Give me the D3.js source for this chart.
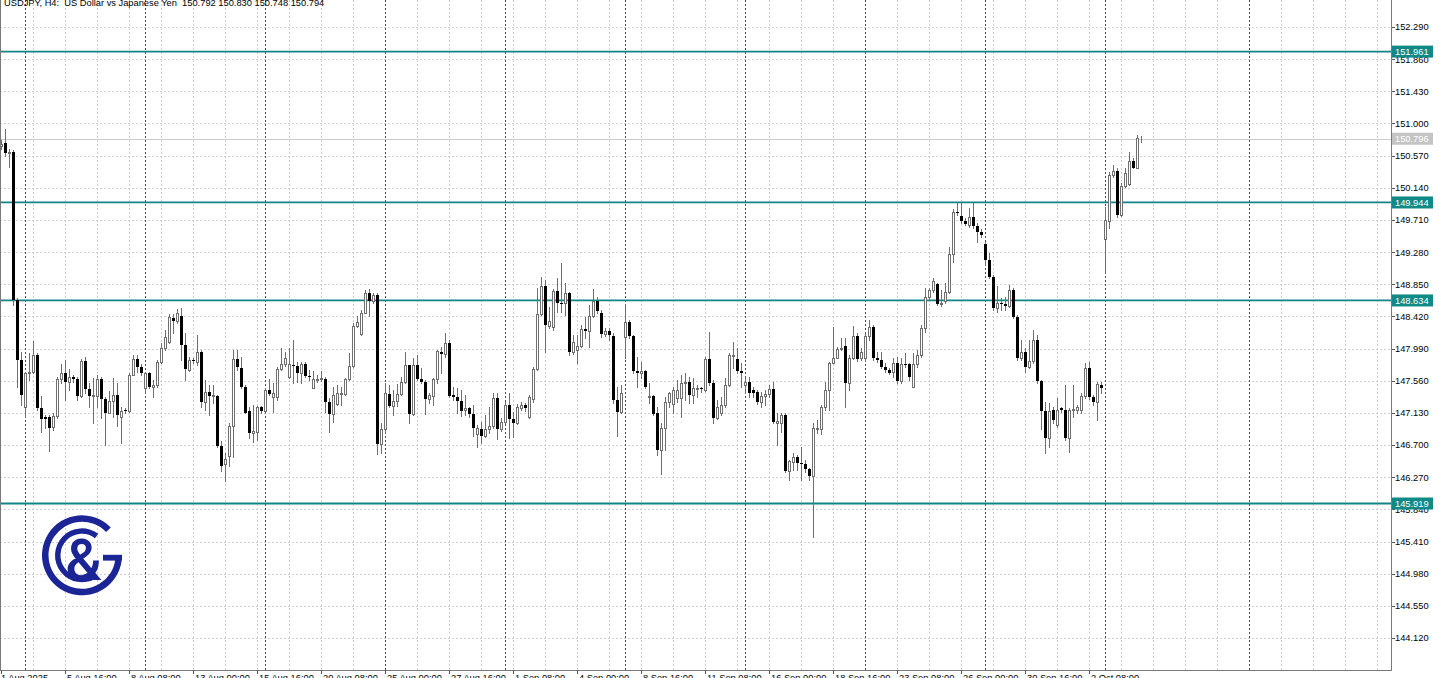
<!DOCTYPE html>
<html><head><meta charset="utf-8">
<script src="https://cdnjs.cloudflare.com/ajax/libs/d3/7.8.5/d3.min.js"></script>
<style>html,body{margin:0;padding:0;background:#fff;overflow:hidden} text{white-space:pre}</style>
</head><body>
<svg id="chart" width="1439" height="678"></svg>
<script>
// ---------- DATA (USDJPY H4, 1 Aug 2025 00:00 onwards, one entry per bar) ----------
const openP = [
150.70,150.74,150.60,150.615,148.64,147.84,147.21,147.66,147.68,147.90,
147.19,147.07,147.08,146.94,147.09,147.58,147.67,147.55,147.61,147.59,
147.35,147.82,147.45,147.35,147.36,147.58,147.31,147.13,147.29,147.37,
147.07,147.17,147.16,147.64,147.85,147.74,147.47,147.66,147.48,147.51,
147.81,148.00,148.08,148.40,148.36,148.43,148.04,147.71,147.84,147.81,
147.94,147.27,147.41,147.35,147.35,146.69,146.45,146.55,146.96,147.85,
147.73,147.48,147.15,146.86,146.88,147.21,147.15,147.43,147.34,147.34,
147.72,147.79,147.61,147.77,147.76,147.66,147.79,147.63,147.47,147.57,
147.58,147.59,147.28,147.12,147.25,147.38,147.38,147.59,147.76,148.29,
148.18,148.47,148.74,148.63,148.71,146.71,146.91,147.38,147.22,147.29,
147.38,147.55,147.77,147.12,147.77,147.58,147.55,147.31,147.35,147.58,
147.95,147.92,148.07,147.37,147.34,147.29,147.17,147.19,147.11,146.85,
146.92,146.82,146.91,146.95,147.33,146.91,147.01,147.24,147.05,147.00,
147.19,147.24,147.08,147.31,147.72,148.45,148.83,148.29,148.28,148.76,
148.60,148.60,148.73,147.94,147.97,148.02,148.25,148.22,148.43,148.63,
148.46,148.18,148.22,148.16,147.30,147.14,148.14,148.34,148.16,147.69,
147.67,147.69,147.34,147.35,147.13,146.63,146.93,147.27,147.25,147.33,
147.33,147.53,147.54,147.37,147.45,147.47,147.44,147.85,147.53,147.06,
147.13,147.23,147.50,147.89,147.85,147.69,147.50,147.55,147.43,147.41,
147.27,147.35,147.38,147.45,147.00,146.99,147.10,146.36,146.47,146.54,
146.46,146.45,146.38,146.29,146.91,146.91,147.21,147.44,147.80,147.87,
147.98,148.02,147.53,147.86,148.16,147.86,147.86,148.16,148.28,147.86,
147.84,147.75,147.70,147.68,147.80,147.56,147.79,147.78,147.48,147.78,
147.90,148.27,148.68,148.77,148.85,148.58,148.62,148.75,149.25,149.82,
149.76,149.69,149.64,149.75,149.63,149.55,149.39,149.18,148.95,148.53,
148.60,148.58,148.56,148.78,148.41,147.86,147.95,147.75,147.82,148.10,
147.56,147.16,146.80,147.17,146.97,147.19,147.17,146.80,147.17,147.17,
147.17,147.36,147.73,147.34,147.27,147.50,149.45,149.70,150.31,150.37,
149.78,150.17,150.19,150.50,150.41,150.792];
const highP = [
150.78,150.92,150.654,150.645,148.662,147.949,147.682,147.927,148.096,147.927,
147.356,147.10,147.10,147.133,147.615,147.78,147.838,147.713,147.637,147.615,
147.851,147.882,147.526,147.592,147.637,147.615,147.347,147.427,147.592,147.526,
147.213,147.19,147.659,147.904,147.904,147.784,147.682,147.682,147.57,147.838,
148.06,148.239,148.448,148.448,148.52,148.528,148.194,147.873,147.86,148.172,
147.971,147.57,147.503,147.503,147.369,146.75,146.60,147.00,147.971,147.971,
147.873,147.503,147.213,147.236,147.222,147.222,147.459,147.579,147.525,147.748,
147.994,147.947,147.994,148.105,147.815,147.815,147.815,147.704,147.695,147.637,
147.695,147.606,147.325,147.481,147.503,147.481,147.60,147.936,148.328,148.426,
148.506,148.773,148.782,148.738,148.729,146.99,147.525,147.503,147.436,147.517,
147.615,147.949,147.771,147.86,147.904,147.726,147.57,147.392,147.592,147.971,
148.016,148.194,148.105,147.481,147.459,147.436,147.37,147.213,147.236,146.968,
147.013,147.102,147.213,147.401,147.401,147.058,147.281,147.392,147.147,147.25,
147.281,147.267,147.37,147.748,148.796,148.952,148.907,148.542,148.782,148.929,
149.139,148.863,148.751,148.172,148.172,148.306,148.417,148.573,148.782,148.675,
148.506,148.261,148.261,148.194,147.481,147.503,148.582,148.372,148.172,147.882,
147.815,147.704,147.525,147.37,147.214,146.991,147.347,147.414,147.481,147.57,
147.637,147.659,147.615,147.592,147.503,147.481,147.873,148.216,147.57,147.303,
147.347,147.592,147.927,148.083,147.994,147.793,147.615,147.615,147.481,147.436,
147.414,147.436,147.503,147.548,147.124,147.124,147.124,146.50,146.59,146.567,
146.679,146.50,146.389,146.99,147.035,147.236,147.548,147.815,148.28,148.016,
148.127,148.127,147.905,148.292,148.194,148.00,148.194,148.372,148.305,147.949,
147.949,147.793,147.726,147.86,147.882,147.86,147.927,147.793,147.927,147.971,
148.305,148.796,148.796,148.929,148.863,148.773,148.863,149.353,149.852,149.941,
149.941,149.732,149.865,149.941,149.665,149.585,149.42,149.264,148.974,148.827,
148.662,148.684,148.84,148.796,148.439,148.105,147.994,148.105,148.239,148.172,
147.57,147.28,147.258,147.214,147.325,147.214,147.503,147.191,147.503,147.236,
147.392,147.793,147.815,147.37,147.548,147.548,149.888,150.356,150.445,150.40,
150.20,150.409,150.623,150.534,150.846,150.830];
const lowP = [
150.66,150.565,150.423,148.573,147.48,147.236,147.08,147.57,147.659,147.169,
146.879,146.93,146.625,146.901,147.057,147.526,147.303,147.436,147.548,147.303,
147.347,147.40,147.213,146.991,147.213,147.057,146.701,147.124,147.08,146.955,
146.723,147.124,147.147,147.637,147.682,147.637,147.414,147.459,147.347,147.481,
147.793,147.971,148.06,148.194,148.328,147.838,147.57,147.695,147.793,147.771,
147.213,147.169,147.102,147.258,146.679,146.35,146.22,146.42,146.545,147.704,
147.459,147.124,146.80,146.745,146.768,147.133,147.124,147.37,147.147,147.303,
147.704,147.757,147.592,147.525,147.548,147.534,147.615,147.57,147.459,147.548,
147.56,147.147,146.88,147.013,147.236,147.236,147.37,147.57,147.739,148.283,
148.172,148.461,148.426,148.595,146.58,146.59,146.879,147.213,147.102,147.222,
147.37,147.525,146.99,147.102,147.57,147.525,147.115,147.26,147.236,147.525,
147.659,147.882,147.347,147.303,147.124,147.089,147.102,147.08,146.821,146.679,
146.723,146.803,146.857,146.924,146.777,146.893,146.991,146.79,146.812,146.982,
147.169,147.16,147.058,147.28,147.704,148.439,147.949,148.261,148.239,148.484,
148.484,148.439,147.904,147.918,147.793,148.007,148.127,148.016,148.417,148.462,
148.15,148.163,148.105,147.258,146.826,147.124,147.86,148.127,147.668,147.481,
147.592,147.459,147.258,147.102,146.567,146.313,146.634,147.214,147.124,147.28,
147.08,147.303,147.267,147.258,147.347,147.414,147.427,147.503,146.991,147.044,
147.102,147.214,147.49,147.726,147.668,147.481,147.392,147.347,147.347,147.249,
147.214,147.236,147.347,146.991,146.701,146.879,146.344,146.233,146.367,146.367,
146.233,146.344,146.233,145.47,146.857,146.848,147.169,147.169,147.793,147.86,
147.971,147.21,147.436,147.846,147.829,147.84,147.829,148.105,147.838,147.815,
147.726,147.682,147.65,147.615,147.526,147.526,147.748,147.57,147.472,147.748,
147.882,148.216,148.64,148.751,148.573,148.564,148.595,148.729,149.152,149.776,
149.665,149.643,149.62,149.598,149.42,149.487,149.108,148.929,148.506,148.484,
148.506,148.506,148.551,148.395,147.838,147.838,147.682,147.726,147.793,147.535,
146.91,146.59,146.678,147.00,146.946,147.147,146.768,146.61,147.08,147.133,
147.124,147.325,147.312,147.236,147.035,147.392,149.02,149.598,150.289,149.754,
149.767,150.155,150.177,150.40,150.40,150.748];
const closeP = [
150.73,150.60,150.62,148.64,147.84,147.37,147.66,147.68,147.90,147.19,
147.05,147.05,146.93,147.09,147.58,147.67,147.55,147.61,147.59,147.35,
147.82,147.45,147.35,147.37,147.58,147.31,147.13,147.29,147.37,147.10,
147.15,147.16,147.64,147.85,147.74,147.66,147.66,147.48,147.51,147.81,
148.00,148.14,148.41,148.36,148.46,148.04,147.72,147.84,147.82,147.94,
147.27,147.41,147.36,147.37,146.69,146.42,146.52,146.96,147.85,147.75,
147.48,147.13,146.86,146.89,147.21,147.15,147.43,147.38,147.39,147.72,
147.79,147.87,147.78,147.76,147.67,147.79,147.62,147.62,147.58,147.58,
147.60,147.28,147.12,147.37,147.39,147.39,147.59,147.76,148.29,148.35,
148.47,148.74,148.63,148.71,146.71,146.91,147.39,147.22,147.29,147.38,
147.55,147.77,147.12,147.77,147.58,147.55,147.31,147.37,147.58,147.96,
147.92,148.07,147.36,147.34,147.29,147.16,147.19,147.11,146.93,146.93,
146.82,146.91,146.96,147.33,146.91,147.01,147.24,147.05,147.00,147.21,
147.24,147.19,147.34,147.72,148.45,148.83,148.31,148.36,148.76,148.60,
148.59,148.73,147.94,148.08,148.02,148.25,148.22,148.43,148.62,148.49,
148.18,148.22,148.17,147.30,147.14,147.39,148.34,148.16,147.69,147.67,
147.69,147.48,147.36,147.12,146.63,146.93,147.27,147.39,147.44,147.44,
147.53,147.55,147.37,147.47,147.47,147.45,147.85,147.53,147.06,147.21,
147.24,147.50,147.91,147.91,147.69,147.66,147.55,147.40,147.40,147.27,
147.35,147.38,147.45,147.01,147.02,147.10,146.36,146.49,146.54,146.46,
146.45,146.38,146.29,146.93,146.93,147.21,147.44,147.80,147.87,147.98,
148.00,147.53,147.86,148.16,147.85,147.95,148.16,148.28,147.86,147.84,
147.75,147.71,147.67,147.80,147.56,147.79,147.78,147.61,147.78,147.90,
148.27,148.68,148.77,148.90,148.58,148.60,148.75,149.25,149.82,149.80,
149.69,149.65,149.75,149.63,149.55,149.51,149.18,148.95,148.53,148.60,
148.58,148.56,148.78,148.41,147.86,147.95,147.75,147.82,148.10,147.56,
147.16,146.80,147.16,147.03,147.17,147.17,146.80,147.17,147.18,147.21,
147.36,147.73,147.34,147.27,147.52,147.47,149.71,150.31,150.37,149.78,
150.17,150.34,150.50,150.41,150.80,150.794];

const priceTicks = [152.29,151.86,151.43,151.00,150.57,150.14,149.71,149.28,148.85,148.42,
                    147.99,147.56,147.13,146.70,146.27,145.84,145.41,144.98,144.55,144.12];
const levelPrices = [151.961, 149.944, 148.634, 145.919];
const bidPrice = 150.796;
const timeLabels = ["1 Aug 2025","5 Aug 16:00","8 Aug 08:00","13 Aug 00:00","15 Aug 16:00",
  "20 Aug 08:00","25 Aug 00:00","27 Aug 16:00","1 Sep 08:00","4 Sep 00:00","8 Sep 16:00",
  "11 Sep 08:00","16 Sep 00:00","18 Sep 16:00","23 Sep 08:00","26 Sep 00:00","30 Sep 16:00","2 Oct 08:00"];
const timeLabelBars = [0,16,32,48,64,80,96,112,128,144,160,176,192,208,224,240,256,272];
const weekStartBars = [6,36,66,96,126,156,186,216,246,276,312];
const symbolText = "USDJPY, H4:  US Dollar vs Japanese Yen";

// ---------- DRAW ----------
const svg = d3.select('#chart');
const plotR = 1391, plotB = 670;
const FONT = "'Liberation Sans', Arial, sans-serif";
const x = d3.scaleLinear().domain([0, 347]).range([1, 1389]);
const y = d3.scaleLinear().domain([143.693, 152.651]).range([plotB, 0]);
const ry = v => Math.round(y(v));
const rx = i => Math.round(x(i));

svg.append('rect').attr('width',1439).attr('height',678).attr('fill','#fff');

const grid = svg.append('g').attr('shape-rendering','crispEdges');
grid.selectAll('line.h').data(priceTicks).join('line').attr('class','h')
  .attr('x1',0).attr('x2',plotR).attr('y1',d=>ry(d)+0.5).attr('y2',d=>ry(d)+0.5)
  .attr('stroke','#d0d0d0').attr('stroke-dasharray','2,2');
const vGrid = d3.range(8, 345, 8);
grid.selectAll('line.v').data(vGrid).join('line').attr('class','v')
  .attr('x1',d=>rx(d)+0.5).attr('x2',d=>rx(d)+0.5).attr('y1',0).attr('y2',plotB)
  .attr('stroke','#d0d0d0').attr('stroke-dasharray','2,2');
grid.selectAll('line.sep').data(weekStartBars).join('line').attr('class','sep')
  .attr('x1',d=>rx(d)+0.5).attr('x2',d=>rx(d)+0.5).attr('y1',0).attr('y2',plotB)
  .attr('stroke','#4a4a4a').attr('stroke-dasharray','2,2');

// bid line
grid.append('line').attr('x1',0).attr('x2',plotR)
  .attr('y1',ry(bidPrice)+0.5).attr('y2',ry(bidPrice)+0.5).attr('stroke','#cccccc');

// level lines
svg.append('g').selectAll('line').data(levelPrices).join('line')
  .attr('x1',0).attr('x2',plotR).attr('y1',d=>y(d)).attr('y2',d=>y(d))
  .attr('stroke','#118585').attr('stroke-width',1.8);

// candles
const idx = d3.range(openP.length);
const cg = svg.append('g').attr('shape-rendering','crispEdges');
cg.selectAll('line.w').data(idx).join('line').attr('class','w')
  .attr('x1',i=>rx(i)+0.5).attr('x2',i=>rx(i)+0.5)
  .attr('y1',i=>ry(highP[i])).attr('y2',i=>ry(lowP[i])+1)
  .attr('stroke','#6f6f6f');
const bears = idx.filter(i=>closeP[i] < openP[i]);
const bulls = idx.filter(i=>closeP[i] >= openP[i]);
cg.selectAll('rect.bear').data(bears).join('rect').attr('class','bear')
  .attr('x',i=>rx(i)-1).attr('width',3)
  .attr('y',i=>ry(openP[i])).attr('height',i=>Math.max(1, ry(closeP[i])-ry(openP[i])))
  .attr('fill','#000');
cg.selectAll('rect.bull').data(bulls).join('rect').attr('class','bull')
  .attr('x',i=>rx(i)-0.5).attr('width',2)
  .attr('y',i=>ry(closeP[i])+0.5).attr('height',i=>Math.max(0, ry(openP[i])-ry(closeP[i])))
  .attr('fill','#fff').attr('stroke','#6f6f6f');

// frame
const fr = svg.append('g').attr('shape-rendering','crispEdges').attr('stroke','#7a7a7a');
fr.append('line').attr('x1',0.5).attr('x2',0.5).attr('y1',0).attr('y2',plotB);
fr.append('line').attr('x1',plotR+0.5).attr('x2',plotR+0.5).attr('y1',0).attr('y2',plotB+1);
fr.append('line').attr('x1',0).attr('x2',plotR+1).attr('y1',plotB+0.5).attr('y2',plotB+0.5);

// price axis
const pa = svg.append('g');
pa.selectAll('line').data(priceTicks).join('line')
  .attr('x1',plotR+1).attr('x2',plotR+4).attr('y1',d=>ry(d)+0.5).attr('y2',d=>ry(d)+0.5)
  .attr('stroke','#555').attr('shape-rendering','crispEdges');
pa.selectAll('text').data(priceTicks).join('text')
  .attr('x',plotR+4).attr('y',d=>y(d)+3.4).text(d=>d.toFixed(3))
  .attr('font-family',FONT).attr('font-size','9.3px').attr('fill','#000');

// level labels
const lg = svg.append('g');
lg.selectAll('rect').data(levelPrices).join('rect')
  .attr('x',plotR+1).attr('y',d=>y(d)-6).attr('width',41).attr('height',12).attr('fill','#0f8a86');
lg.selectAll('text').data(levelPrices).join('text')
  .attr('x',plotR+4).attr('y',d=>y(d)+3.4).text(d=>d.toFixed(3))
  .attr('font-family',FONT).attr('font-size','9.3px').attr('fill','#fff');
lg.append('rect').attr('x',plotR+1).attr('y',y(bidPrice)-6).attr('width',41).attr('height',12).attr('fill','#c4c4c4');
lg.append('text').attr('x',plotR+4).attr('y',y(bidPrice)+3.4).text(bidPrice.toFixed(3))
  .attr('font-family',FONT).attr('font-size','9.3px').attr('fill','#fff');

// time axis
const ta = svg.append('g');
ta.selectAll('line').data(timeLabelBars).join('line')
  .attr('x1',i=>rx(i)+0.5).attr('x2',i=>rx(i)+0.5).attr('y1',plotB).attr('y2',plotB+4)
  .attr('stroke','#555').attr('shape-rendering','crispEdges');
ta.selectAll('text').data(timeLabelBars).join('text')
  .attr('x',(i,k)=> k===0 ? 1 : rx(i)+2).attr('y',681)
  .text((i,k)=>timeLabels[k])
  .attr('font-family',FONT).attr('font-size','9.3px').attr('fill','#000');

// title
const last = openP.length-1;
svg.append('text').attr('x',4).attr('y',5.5)
  .text(symbolText + "  " + [openP[last],highP[last],lowP[last],closeP[last]].map(v=>v.toFixed(3)).join(' '))
  .attr('font-family',FONT).attr('font-size','9.3px').attr('fill','#000');

// logo
const navy = '#1b2596';
const logo = svg.append('g').attr('transform','translate(82,555.3)');
const deg = Math.PI/180;
logo.append('path').attr('d', d3.arc()({innerRadius:33.5, outerRadius:40, startAngle:97*deg, endAngle:406*deg})).attr('fill',navy);
logo.append('path').attr('d', d3.arc()({innerRadius:21.5, outerRadius:27, startAngle:149*deg, endAngle:397*deg})).attr('fill',navy);
logo.append('rect').attr('x',21).attr('y',-0.5).attr('width',19).attr('height',5.8).attr('fill',navy);
logo.append('text').attr('x',1.5).attr('y',24.5).attr('text-anchor','middle')
  .attr('font-family','Roboto, sans-serif').attr('font-weight',500).attr('font-size','57px')
  .attr('fill',navy).text('&');
</script>
</body></html>
